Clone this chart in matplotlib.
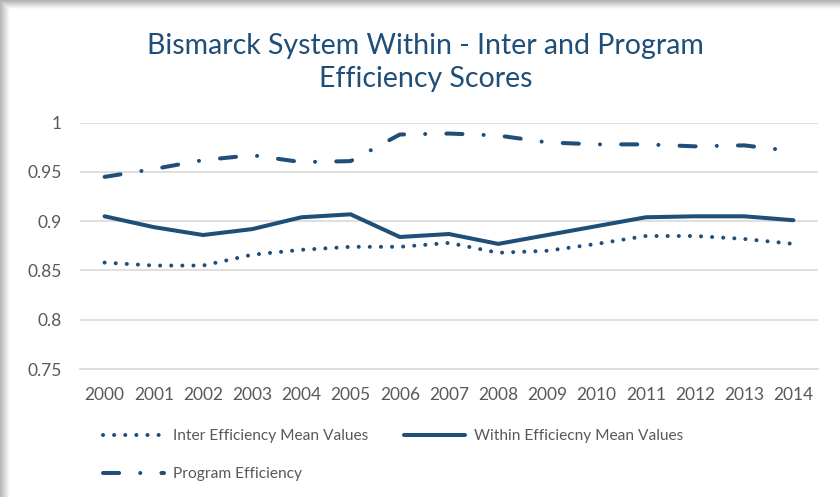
import numpy as np
import matplotlib
matplotlib.use('Agg')
import matplotlib.pyplot as plt

# Data
years = ['2000', '2001', '2002', '2003', '2004', '2005', '2006', '2007',
         '2008', '2009', '2010', '2011', '2012', '2013', '2014']
inter_eff = [0.858, 0.855, 0.855, 0.866, 0.871, 0.874, 0.874, 0.878,
             0.868, 0.870, 0.877, 0.885, 0.885, 0.882, 0.877]
within_eff = [0.905, 0.894, 0.886, 0.892, 0.904, 0.907, 0.884, 0.887,
              0.877, 0.886, 0.895, 0.904, 0.905, 0.905, 0.901]
program_eff = [0.945, 0.953, 0.962, 0.967, 0.960, 0.961, 0.988, 0.989,
               0.987, 0.980, 0.978, 0.978, 0.976, 0.977, 0.971]
y_ticks = [0.75, 0.8, 0.85, 0.9, 0.95, 1.0]
y_labels = ['0.75', '0.8', '0.85', '0.9', '0.95', '1']

blue = '#1F4E79'
grey_text = '#595959'
grid_col = '#D9D9D9'
plt.rcParams['font.family'] = ['Lato', 'DejaVu Sans']

fig = plt.figure(figsize=(8.4, 4.97), dpi=100)
fig.patch.set_facecolor('white')

# soft shadow along the top and left edges of the picture
bg = fig.add_axes([0, 0, 1, 1], zorder=-5)
H, W = 497, 840
yy, xx = np.mgrid[0:H, 0:W]
shade = np.ones((H, W))
shade = np.minimum(shade, np.clip(0.70 + 0.035 * yy, 0, 1))
shade = np.minimum(shade, np.clip(0.72 + 0.03 * xx, 0, 1))
bg.imshow(shade, cmap='gray', vmin=0, vmax=1, aspect='auto',
          extent=[0, W, H, 0], interpolation='bilinear')
bg.axis('off')

ax = fig.add_axes([80 / 840, 1 - 369 / 497, 738 / 840, (369 - 122.7) / 497])
ax.set_facecolor('none')
x = np.arange(len(years))

l_inter, = ax.plot(x, inter_eff, color=blue, lw=2.9,
                   linestyle=(0, (0.01, 2.75)), dash_capstyle='round',
                   label='Inter Efficiency Mean Values')
l_within, = ax.plot(x, within_eff, color=blue, lw=2.9,
                    solid_capstyle='round',
                    label='Within Efficiecny Mean Values')
l_prog, = ax.plot(x, program_eff, color=blue, lw=2.9,
                  linestyle=(0, (4, 5.25, 0.01, 5.25)), dash_capstyle='round',
                  label='Program Efficiency')

ax.set_xlim(-0.5, len(years) - 0.5)
ax.set_ylim(0.75, 1.0)
ax.set_yticks(y_ticks)
ax.set_yticklabels(y_labels)
ax.set_xticks(x)
ax.set_xticklabels(years)
ax.grid(axis='y', color=grid_col, lw=1.2)
ax.set_axisbelow(True)
for s in ['top', 'right', 'left']:
    ax.spines[s].set_visible(False)
ax.spines['bottom'].set_color(grid_col)
ax.spines['bottom'].set_linewidth(1.2)
ax.tick_params(axis='both', length=0, colors=grey_text, labelsize=12.5)
ax.tick_params(axis='y', pad=13)
ax.tick_params(axis='x', pad=13)

fig.text(0.507, 1 - 46 / 497, 'Bismarck System Within - Inter and Program',
         ha='center', va='center', fontsize=20.5, color=blue)
fig.text(0.507, 1 - 79 / 497, 'Efficiency Scores',
         ha='center', va='center', fontsize=20.5, color=blue)

leg = fig.legend(handles=[l_inter, l_prog, l_within], ncol=2,
                 loc='upper left', bbox_to_anchor=(103 / 840, 1 - 429 / 497),
                 frameon=False, fontsize=11.2, handlelength=3.9,
                 handletextpad=0.6, columnspacing=2.3, labelspacing=1.55,
                 borderpad=0, borderaxespad=0)
for t in leg.get_texts():
    t.set_color(grey_text)

fig.savefig('out.png', dpi=100, facecolor=fig.get_facecolor())
